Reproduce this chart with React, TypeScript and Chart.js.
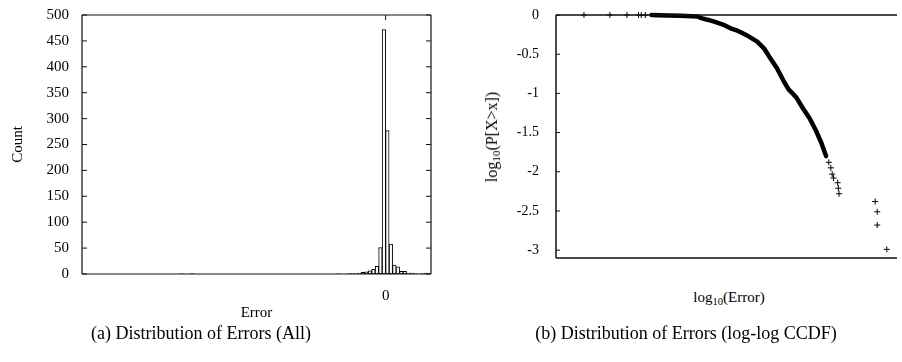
import React, { useEffect, useRef } from "react";
import { Chart, registerables } from "chart.js";

Chart.register(...registerables);

const SERIF = "'Liberation Serif', 'Times New Roman', Times, serif";

// (a) Histogram of errors: bin start (bin width 1) and count
const histBinStart = [-59, -56, -14, -11, -10, -9, -8, -7, -6, -5, -4, -3, -2, -1, 0, 1, 2, 3, 4, 5, 6, 7, 8, 10, 11, 12];
const histCount = [1, 1, 1, 1, 1, 1, 2, 3, 4, 6, 9, 15, 51, 472, 277, 58, 17, 14, 5, 5, 2, 2, 1, 1, 2, 1];
const histXMin = -87;
const histXMax = 13;
const histXTicks = [0];
const histYTicks = [0, 50, 100, 150, 200, 250, 300, 350, 400, 450, 500];

// (b) log-log CCDF: dense part of the curve and isolated points
const ccdfDenseX = [-1.6, -1.5, -1.35, -1.17, -0.92, -0.87, -0.78, -0.68, -0.53, -0.44, -0.34, -0.29, -0.2, -0.05, 0.05, 0.14, 0.24, 0.33, 0.41, 0.48, 0.53, 0.62, 0.72, 0.82, 0.89, 0.96];
const ccdfDenseY = [0, -0.003, -0.006, -0.01, -0.02, -0.04, -0.06, -0.085, -0.13, -0.17, -0.2, -0.22, -0.26, -0.34, -0.425, -0.55, -0.68, -0.83, -0.95, -1.01, -1.06, -1.19, -1.32, -1.49, -1.63, -1.8];
const ccdfPointX = [-2.59, -2.21, -1.96, -1.79, -1.75, -1.69, 1.0, 1.03, 1.05, 1.07, 1.13, 1.14, 1.15, 1.68, 1.71, 1.71, 1.85];
const ccdfPointY = [0, 0, 0, 0, 0, 0, -1.88, -1.95, -2.03, -2.08, -2.14, -2.21, -2.28, -2.38, -2.51, -2.68, -2.99];
const ccdfXMin = -3;
const ccdfXMax = 2;
const ccdfYMin = -3.1;
const ccdfYMax = 0;
const ccdfYTicks = [0, -0.5, -1, -1.5, -2, -2.5, -3];

const framePlugin = {
  id: "gpFrame",
  afterDatasetsDraw(chart: any, _args: any, opts: any) {
    const { ctx, chartArea } = chart;
    const { left, right, top, bottom } = chartArea;
    const xs = chart.scales.x;
    const ys = chart.scales.y;
    const tl = opts.tickLength ?? 4;
    ctx.save();
    ctx.strokeStyle = opts.color || "#000";
    ctx.lineWidth = opts.lineWidth || 1;
    ctx.beginPath();
    ctx.moveTo(left, top);
    ctx.lineTo(right, top);
    ctx.moveTo(left, bottom);
    ctx.lineTo(right, bottom);
    ctx.moveTo(left, top);
    ctx.lineTo(left, bottom);
    if (opts.drawRight) {
      ctx.moveTo(right, top);
      ctx.lineTo(right, bottom);
    }
    ctx.stroke();
    ctx.lineWidth = opts.tickWidth || 1;
    ctx.beginPath();
    (opts.yTicks || []).forEach((v: number) => {
      const y = ys.getPixelForValue(v);
      if (opts.yLeft) { ctx.moveTo(left, y); ctx.lineTo(left + tl, y); }
      if (opts.yRight) { ctx.moveTo(right, y); ctx.lineTo(right - tl, y); }
    });
    (opts.xTicks || []).forEach((v: number) => {
      const x = xs.getPixelForValue(v);
      ctx.moveTo(x, top); ctx.lineTo(x, top + tl);
      ctx.moveTo(x, bottom); ctx.lineTo(x, bottom - tl);
    });
    ctx.stroke();
    ctx.restore();
  },
};

const noPad = (s: any) => {
  s.paddingTop = 0;
  s.paddingBottom = 0;
  s.paddingLeft = 0;
  s.paddingRight = 0;
};

function HistChart() {
  const ref = useRef<HTMLCanvasElement>(null);
  useEffect(() => {
    const chart = new Chart(ref.current as HTMLCanvasElement, {
      type: "bar",
      data: {
        datasets: [
          {
            data: histBinStart.map((s, i) => ({ x: s + 0.5, y: histCount[i] })),
            backgroundColor: "#ffffff",
            borderColor: "#000000",
            borderWidth: 1,
            borderSkipped: false,
            barPercentage: 1,
            categoryPercentage: 1,
          } as any,
        ],
      },
      options: {
        responsive: false,
        animation: false,
        devicePixelRatio: 1,
        layout: { padding: { left: 0, top: 15, right: 20, bottom: 0 } },
        plugins: {
          legend: { display: false },
          tooltip: { enabled: false },
          gpFrame: { color: "#111", lineWidth: 1.2, yTicks: histYTicks, xTicks: histXTicks, yLeft: true, yRight: true, tickLength: 5, drawRight: true },
        } as any,
        scales: {
          x: {
            type: "linear",
            min: histXMin,
            max: histXMax,
            offset: false,
            grid: { display: false },
            border: { display: false },
            afterBuildTicks: (s: any) => { s.ticks = histXTicks.map((v) => ({ value: v })); },
            afterFit: (s: any) => { s.height = 56; noPad(s); },
            ticks: { font: { family: SERIF, size: 15 }, color: "#000", padding: 5, maxRotation: 0, autoSkip: false },
            title: { display: true, text: "Error", font: { family: SERIF, size: 15 }, color: "#000", padding: { top: 0, bottom: 8 } },
          },
          y: {
            min: 0,
            max: 500,
            grid: { display: false },
            border: { display: false },
            afterBuildTicks: (s: any) => { s.ticks = histYTicks.map((v) => ({ value: v })); },
            afterFit: (s: any) => { s.width = 82; noPad(s); },
            ticks: { font: { family: SERIF, size: 15 }, color: "#000", padding: 5, autoSkip: false },
            title: { display: true, text: "Count", font: { family: SERIF, size: 15 }, color: "#000", padding: { top: 9, bottom: 0 } },
          },
        } as any,
      },
      plugins: [framePlugin as any],
    });
    return () => chart.destroy();
  }, []);
  return <canvas ref={ref} width={451} height={330} style={{ position: "absolute", left: 0, top: 0, width: 451, height: 330 }} />;
}

function CcdfChart() {
  const ref = useRef<HTMLCanvasElement>(null);
  useEffect(() => {
    const chart = new Chart(ref.current as HTMLCanvasElement, {
      type: "scatter",
      data: {
        datasets: [
          {
            data: ccdfDenseX.map((x, i) => ({ x, y: ccdfDenseY[i] })),
            showLine: true,
            borderColor: "#000",
            borderWidth: 4.5,
            borderJoinStyle: "round",
            borderCapStyle: "round",
            pointRadius: 0,
            clip: false,
          } as any,
          {
            data: ccdfPointX.map((x, i) => ({ x, y: ccdfPointY[i] })),
            showLine: false,
            pointStyle: "cross",
            pointRadius: 3,
            borderColor: "#000",
            backgroundColor: "#000",
            borderWidth: 1,
            clip: false,
          } as any,
        ],
      },
      options: {
        responsive: false,
        animation: false,
        devicePixelRatio: 1,
        layout: { padding: { left: 0, top: 15, right: 0, bottom: 0 } },
        plugins: {
          legend: { display: false },
          tooltip: { enabled: false },
          gpFrame: { color: "#111", lineWidth: 1.5, yTicks: ccdfYTicks, xTicks: [], yLeft: true, yRight: false, tickLength: 4, drawRight: false },
        } as any,
        scales: {
          x: {
            type: "linear",
            min: ccdfXMin,
            max: ccdfXMax,
            offset: false,
            grid: { display: false },
            border: { display: false },
            ticks: { display: false },
            afterFit: (s: any) => { s.height = 12; noPad(s); },
          },
          y: {
            min: ccdfYMin,
            max: ccdfYMax,
            grid: { display: false },
            border: { display: false },
            afterBuildTicks: (s: any) => { s.ticks = ccdfYTicks.map((v) => ({ value: v })); },
            afterFit: (s: any) => { s.width = 105; noPad(s); },
            ticks: { font: { family: SERIF, size: 14 }, color: "#000", padding: 9, autoSkip: false, callback: (v: any) => String(v) },
          },
        } as any,
      },
      plugins: [framePlugin as any],
    });
    return () => chart.destroy();
  }, []);
  return <canvas ref={ref} width={451} height={270} style={{ position: "absolute", left: 451, top: 0, width: 451, height: 270 }} />;
}

const textBase: React.CSSProperties = {
  position: "absolute",
  fontFamily: SERIF,
  color: "#000",
  whiteSpace: "nowrap",
  lineHeight: 1,
};
const subStyle: React.CSSProperties = { fontSize: "0.7em", verticalAlign: "-0.3em", lineHeight: 0 };

export default function App() {
  useEffect(() => {
    document.body.style.margin = "0";
  }, []);
  return (
    <div style={{ position: "fixed", left: 0, top: 0, width: 902, height: 362, overflow: "hidden", background: "#fff" }}>
      <HistChart />
      <CcdfChart />
      <div style={{ ...textBase, fontSize: 16, left: 492, top: 137, transform: "translate(-50%, -50%) rotate(-90deg)" }}>
        log<sub style={subStyle}>10</sub>(P[X&gt;x])
      </div>
      <div style={{ ...textBase, fontSize: 15, left: 729, top: 297, transform: "translate(-50%, -50%)" }}>
        log<sub style={subStyle}>10</sub>(Error)
      </div>
      <div style={{ ...textBase, fontSize: 18, left: 201, top: 333, transform: "translate(-50%, -50%)" }}>
        (a) Distribution of Errors (All)
      </div>
      <div style={{ ...textBase, fontSize: 18, left: 686, top: 333, transform: "translate(-50%, -50%)" }}>
        (b) Distribution of Errors (log-log CCDF)
      </div>
    </div>
  );
}
